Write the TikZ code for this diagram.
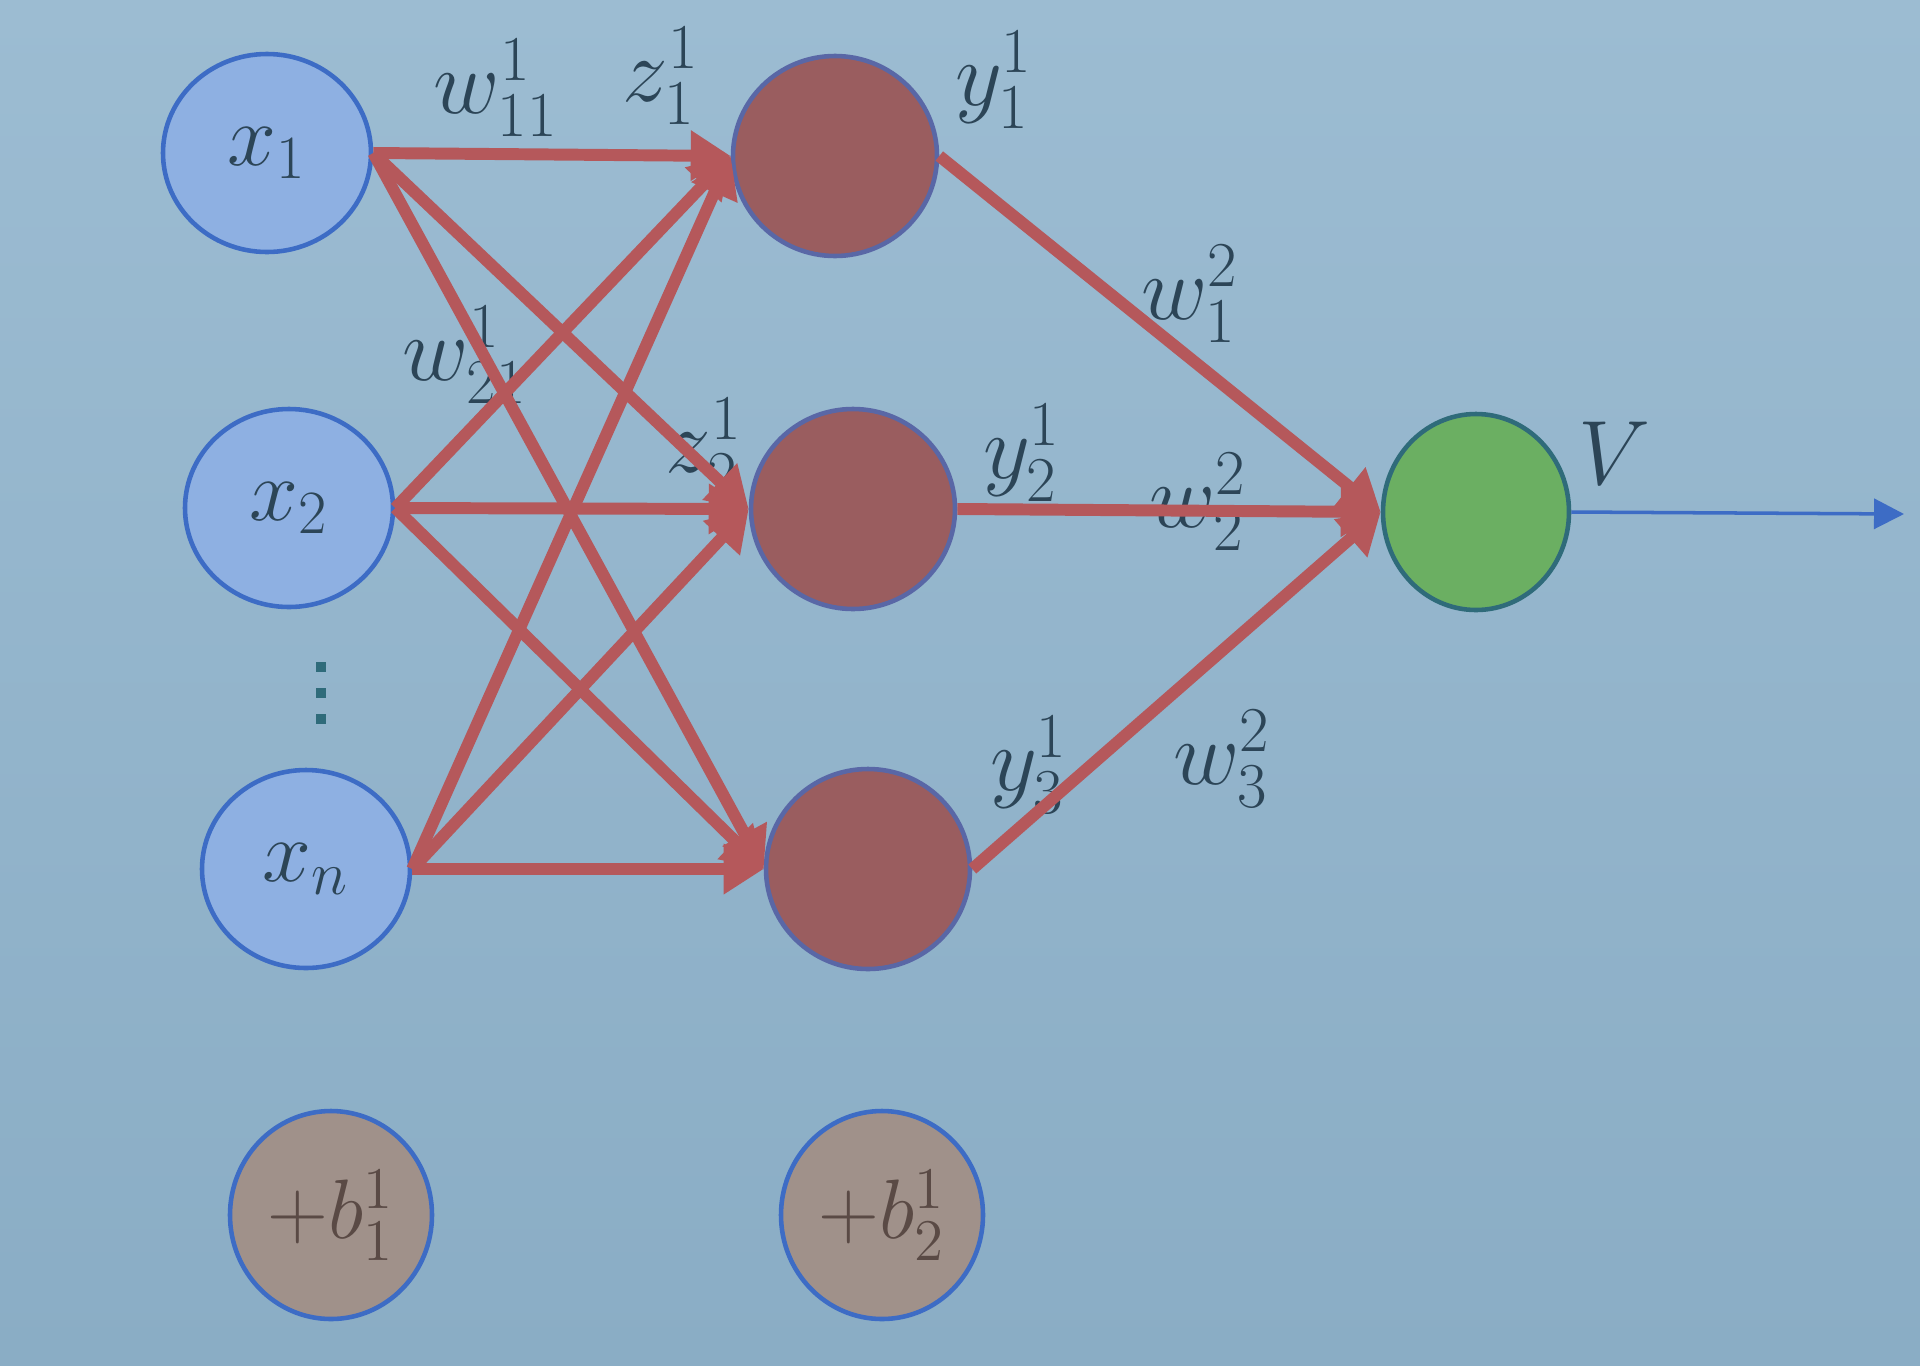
\RequirePackage{fix-cm}
\documentclass[tikz,border=0pt]{standalone}
\usepackage{amsmath}
\usepackage{tikz}
\usetikzlibrary{arrows.meta,positioning,shapes.geometric}
\definecolor{slidebgtop}{HTML}{9CBCD2}
\definecolor{slidebgbot}{HTML}{8AADC5}
\definecolor{inputfill}{HTML}{8EB0E2}
\definecolor{inputblue}{HTML}{3D6CC5}
\definecolor{hiddenfill}{HTML}{9A5D5F}
\definecolor{synred}{HTML}{B5585B}
\definecolor{outfill}{HTML}{6BAF62}
\definecolor{outline}{HTML}{2F6B7A}
\definecolor{biasfill}{HTML}{A0918A}
\definecolor{biasink}{HTML}{5A4A45}
\definecolor{labelink}{HTML}{2C4557}
\tikzset{
  inputnode/.style={ellipse,draw=inputblue,line width=1.3pt,fill=inputfill,minimum width=2.08cm,minimum height=1.98cm,inner sep=0pt,font=\fontsize{25}{29}\selectfont,text=labelink},
  hiddennode/.style={ellipse,draw=inputblue!70!hiddenfill,line width=1.3pt,fill=hiddenfill,minimum width=2.04cm,minimum height=2cm,inner sep=0pt},
  outnode/.style={ellipse,draw=outline,line width=1.3pt,fill=outfill,minimum width=1.86cm,minimum height=1.96cm,inner sep=0pt},
  biasnode/.style={ellipse,draw=inputblue,line width=1.3pt,fill=biasfill,minimum width=2.02cm,minimum height=2.08cm,inner sep=0pt,font=\fontsize{24}{28}\selectfont,text=biasink},
  weightlabel/.style={font=\fontsize{26}{30}\selectfont,text=labelink,inner sep=0pt},
  synapse/.style={-{Triangle[length=4mm,width=4.8mm]},line width=3.4pt,draw=synred},
  outflow/.style={-{Triangle[length=3mm,width=3mm]},line width=1pt,draw=inputblue},
}

\begin{document}
\begin{tikzpicture}
  \useasboundingbox (0,0) rectangle (19.2,-13.65);
  \shade[top color=slidebgtop,bottom color=slidebgbot] (0,0) rectangle (19.2,-13.65);
  % layers
  \node[inputnode] (x1) at (2.67,-1.53) {$x_1$};
  \node[inputnode] (x2) at (2.89,-5.08) {$x_2$};
  \node[inputnode] (xn) at (3.06,-8.69) {$x_n$};
  \foreach \yy in {-6.67,-6.93,-7.19}{
    \fill[outline] (3.16,\yy-.05) rectangle (3.26,\yy+.05);
  }
  \node[hiddennode] (h1) at (8.35,-1.56) {};
  \node[hiddennode] (h2) at (8.53,-5.09) {};
  \node[hiddennode] (h3) at (8.68,-8.69) {};
  \node[outnode] (out) at (14.76,-5.12) {};
  \coordinate (vend) at (19.04,-5.14);
  \node[biasnode] (b1) at (3.31,-12.15) {$+b^1_1$};
  \node[biasnode] (b2) at (8.82,-12.15) {$+b^1_2$};
  % labels
  \node[weightlabel] (lw11) at (4.96,-0.88) {$w^1_{11}$};
  \node[weightlabel] (lz1) at (6.61,-0.76) {$z^1_1$};
  \node[weightlabel] (ly1) at (9.94,-0.80) {$y^1_1$};
  \node[weightlabel] (lw21) at (4.65,-3.55) {$w^1_{21}$};
  \node[weightlabel] (lz2) at (7.04,-4.47) {$z^1_2$};
  \node[weightlabel] (ly2) at (10.22,-4.53) {$y^1_2$};
  \node[weightlabel] (ly3) at (10.29,-7.65) {$y^1_3$};
  \node[weightlabel] (lv1) at (11.90,-2.94) {$w^2_1$};
  \node[weightlabel] (lv2) at (11.98,-5.02) {$w^2_2$};
  \node[weightlabel] (lv3) at (12.22,-7.59) {$w^2_3$};
  \node[weightlabel] (lV) at (16.14,-4.53) {$V$};
  % connections
  \foreach \src in {x1,x2,xn}{
    \foreach \dst in {h1,h2,h3}{
      \draw[synapse] (\src.east) -- (\dst.west);
    }
  }
  \foreach \src in {h1,h2,h3}{
    \draw[synapse] (\src.east) -- (out.west);
  }
  \draw[outflow] (out.east) -- (vend);
\end{tikzpicture}
\end{document}
